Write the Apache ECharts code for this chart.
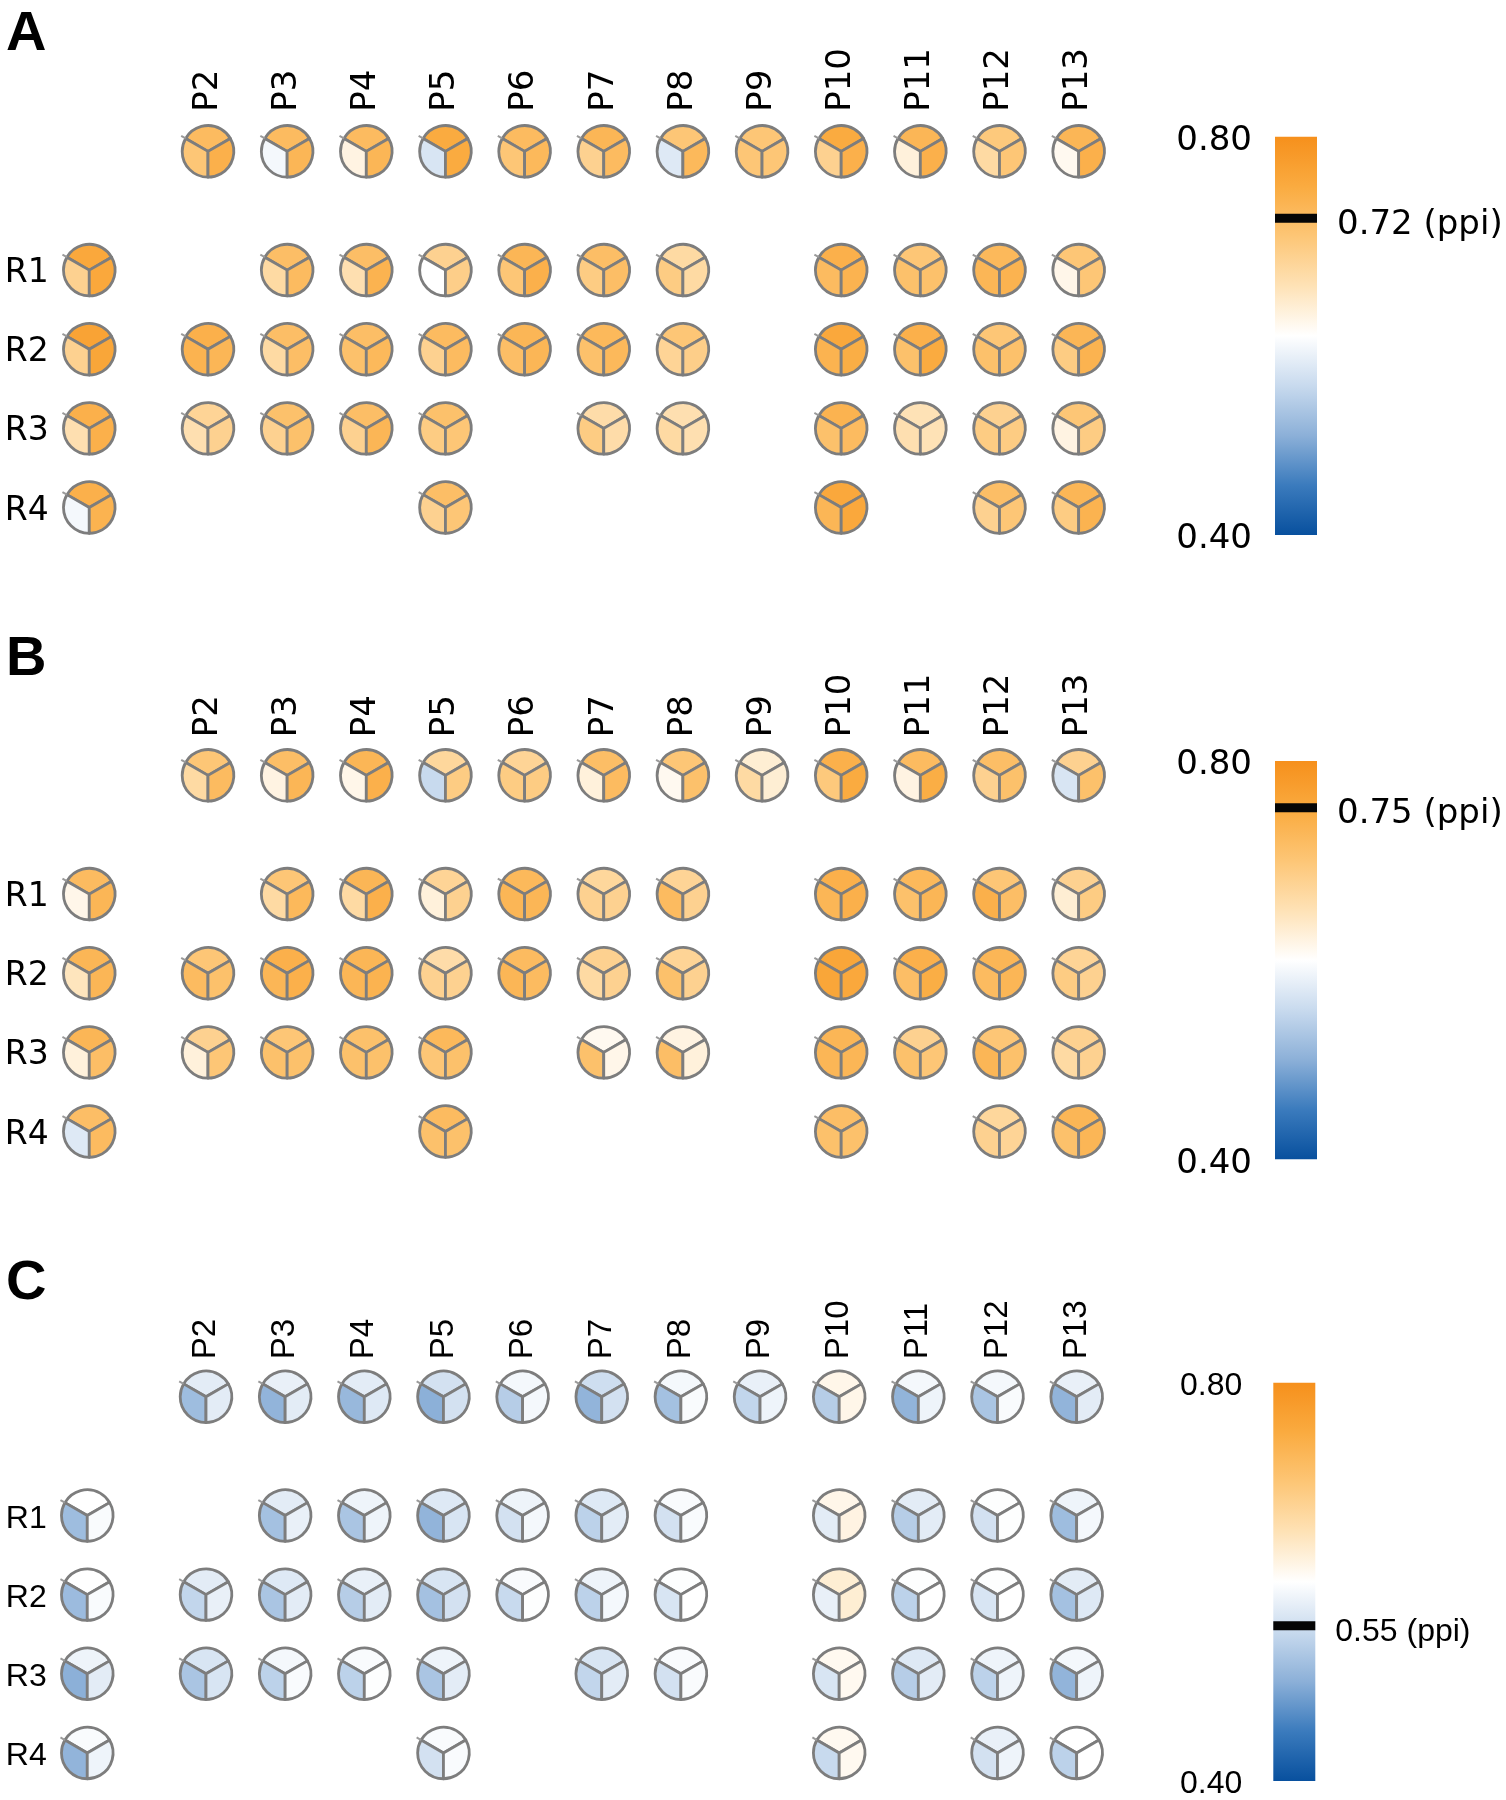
<!DOCTYPE html>
<html>
<head>
<meta charset="utf-8">
<script src="https://cdn.jsdelivr.net/npm/echarts@6/dist/echarts.min.js"></script>
<style>
html,body{margin:0;padding:0;background:#ffffff;}
#main{width:1506px;height:1800px;}
</style>
</head>
<body>
<div id="main"></div>
<script>
// ---------------- DATA ----------------
const panelNames = ['A', 'B', 'C'];
const colLabels = ['P2','P3','P4','P5','P6','P7','P8','P9','P10','P11','P12','P13'];
const colX = [2,3,4,5,6,7,8,9,10,11,12,13];
const rowLabels = ['R1','R2','R3','R4'];
const rowY = [1.5, 2.5, 3.5, 4.5];
const rColX = 0.5;      // position of the unlabeled first column
const headerY = 0;      // position of the header row of circles
// each circle: [top sector, lower-left sector, lower-right sector]
// row arrays: [first column, P2, P3, ..., P13]; null = no circle

const A_header = [[0.72,0.70,0.74],[0.72,0.59,0.73],[0.72,0.62,0.73],[0.75,0.565,0.75],[0.72,0.70,0.725],[0.73,0.68,0.72],[0.70,0.57,0.725],[0.70,0.70,0.70],[0.75,0.68,0.74],[0.73,0.625,0.74],[0.695,0.665,0.70],[0.73,0.61,0.74]];
const A_R1 = [[0.755,0.68,0.755],null,[0.715,0.665,0.72],[0.715,0.655,0.735],[0.68,0.60,0.685],[0.73,0.70,0.74],[0.715,0.69,0.715],[0.665,0.69,0.665],null,[0.74,0.72,0.735],[0.70,0.71,0.71],[0.725,0.73,0.735],[0.70,0.615,0.70]];
const A_R2 = [[0.765,0.68,0.76],[0.74,0.735,0.73],[0.715,0.665,0.715],[0.715,0.71,0.725],[0.72,0.68,0.72],[0.73,0.715,0.73],[0.725,0.71,0.725],[0.70,0.675,0.685],null,[0.755,0.735,0.745],[0.74,0.71,0.75],[0.70,0.71,0.71],[0.73,0.69,0.735]];
const A_R3 = [[0.74,0.655,0.74],[0.675,0.655,0.68],[0.71,0.68,0.71],[0.715,0.68,0.73],[0.71,0.69,0.70],null,[0.66,0.69,0.66],[0.655,0.665,0.655],null,[0.735,0.71,0.72],[0.65,0.655,0.65],[0.68,0.69,0.69],[0.70,0.62,0.69]];
const A_R4 = [[0.74,0.59,0.735],null,null,null,[0.715,0.68,0.70],null,null,null,null,[0.755,0.73,0.755],null,[0.715,0.68,0.70],[0.73,0.69,0.735]];

const B_header = [[0.70,0.665,0.72],[0.715,0.62,0.73],[0.73,0.615,0.74],[0.67,0.55,0.69],[0.675,0.69,0.69],[0.715,0.625,0.72],[0.70,0.61,0.71],[0.63,0.665,0.63],[0.74,0.695,0.75],[0.72,0.62,0.745],[0.715,0.68,0.71],[0.68,0.565,0.71]];
const B_R1 = [[0.72,0.615,0.73],null,[0.70,0.665,0.725],[0.73,0.665,0.74],[0.675,0.625,0.68],[0.725,0.73,0.73],[0.67,0.68,0.68],[0.675,0.72,0.68],null,[0.74,0.73,0.74],[0.725,0.71,0.73],[0.70,0.74,0.715],[0.68,0.63,0.69]];
const B_R2 = [[0.73,0.645,0.73],[0.70,0.72,0.71],[0.74,0.73,0.74],[0.73,0.73,0.735],[0.66,0.68,0.68],[0.72,0.73,0.72],[0.68,0.665,0.68],[0.675,0.71,0.68],null,[0.76,0.76,0.755],[0.74,0.715,0.745],[0.73,0.72,0.73],[0.675,0.69,0.68]];
const B_R3 = [[0.73,0.625,0.715],[0.68,0.625,0.70],[0.70,0.71,0.71],[0.71,0.71,0.71],[0.725,0.70,0.71],null,[0.61,0.71,0.615],[0.62,0.715,0.625],null,[0.73,0.73,0.73],[0.68,0.71,0.70],[0.70,0.73,0.71],[0.68,0.665,0.68]];
const B_R4 = [[0.715,0.57,0.72],null,null,null,[0.72,0.71,0.71],null,null,null,null,[0.715,0.71,0.71],null,[0.67,0.68,0.675],[0.73,0.71,0.73]];

const C_header = [[0.575,0.515,0.575],[0.58,0.505,0.575],[0.575,0.51,0.57],[0.56,0.50,0.56],[0.59,0.535,0.59],[0.555,0.505,0.56],[0.59,0.52,0.595],[0.58,0.545,0.585],[0.615,0.535,0.615],[0.59,0.505,0.585],[0.59,0.525,0.595],[0.58,0.505,0.575]];
const C_R1 = [[0.60,0.515,0.595],null,[0.575,0.52,0.58],[0.585,0.525,0.585],[0.57,0.505,0.565],[0.585,0.56,0.59],[0.57,0.54,0.575],[0.595,0.56,0.595],null,[0.615,0.575,0.62],[0.575,0.535,0.575],[0.598,0.56,0.598],[0.585,0.515,0.59]];
const C_R2 = [[0.60,0.513,0.595],[0.575,0.545,0.58],[0.57,0.525,0.575],[0.58,0.535,0.575],[0.565,0.52,0.56],[0.595,0.55,0.598],[0.585,0.54,0.59],[0.598,0.565,0.60],null,[0.63,0.58,0.63],[0.598,0.54,0.60],[0.598,0.565,0.60],[0.575,0.52,0.57]];
const C_R3 = [[0.585,0.50,0.575],[0.565,0.525,0.565],[0.59,0.54,0.595],[0.595,0.54,0.598],[0.585,0.525,0.575],null,[0.565,0.545,0.575],[0.595,0.56,0.595],null,[0.61,0.565,0.61],[0.57,0.535,0.575],[0.585,0.54,0.585],[0.59,0.505,0.585]];
const C_R4 = [[0.595,0.505,0.585],null,null,null,[0.595,0.56,0.595],null,null,null,null,[0.61,0.55,0.61],null,[0.58,0.56,0.585],[0.60,0.54,0.60]];

const cbarMin = 0.40;
const cbarMax = 0.80;
const markerValues = [0.718, 0.753, 0.556];
const markerLabels = ['0.72 (ppi)', '0.75 (ppi)', '0.55 (ppi)'];
// colour map from 0.40 (blue) to 0.80 (orange), evenly spaced stops
const colorStops = ['#08509e','#3b7bbd','#8cb0d8','#c8daee','#ffffff','#fee2b6','#fdc676','#faab40','#f6901c'];

// ---------------- LAYOUT ----------------
const panels = [
  {header: A_header, rows: [A_R1, A_R2, A_R3, A_R4]},
  {header: B_header, rows: [B_R1, B_R2, B_R3, B_R4]},
  {header: C_header, rows: [C_R1, C_R2, C_R3, C_R4]}
];
const gridTops = [111.8, 735.8, 1357.2];
const gridLefts = [49.7, 49.7, 47.7];
const labelMarginsTop = [0, -1.5, -2];
const fonts = ['DejaVu Sans', 'DejaVu Sans', 'Liberation Sans'];
const fontSizes = [34, 34, 33];
const letterY = [35, 659.5, 1284];
const cbarTops = [136.7, 761, 1382.7];
const cbarLefts = [1275, 1275, 1273.3];
const cbarLabelMargins = [23, 23, 31];
const cbarLabelPad = [9, 9, 6];
const markerTextDy = [7, 6, 7];
const UNIT_R = 0.326;

function buildItems(header, rows) {
  const items = [];
  header.forEach((vals, j) => {
    if (!vals) return;
    vals.forEach((v, s) => items.push([colX[j], headerY, s, v]));
  });
  rows.forEach((row, r) => {
    row.forEach((vals, k) => {
      if (!vals) return;
      const x = k === 0 ? rColX : colX[k - 1];
      vals.forEach((v, s) => items.push([x, rowY[r], s, v]));
    });
  });
  return items;
}

const ANG = [[-150, -30], [90, 210], [-30, 90]];
function renderSector(params, api) {
  const c = api.coord([api.value(0), api.value(1)]);
  const sz = api.size([UNIT_R, UNIT_R]);
  const r = Math.abs(sz[0]);
  const s = api.value(2);
  const a = ANG[s];
  const children = [{
    type: 'sector',
    shape: {cx: c[0], cy: c[1], r0: 0, r: r,
            startAngle: a[0] * Math.PI / 180, endAngle: a[1] * Math.PI / 180, clockwise: true},
    style: {fill: api.visual('color'), stroke: '#7d7d7d', lineWidth: 2.8, lineJoin: 'round'}
  }];
  if (s === 1) {
    const t = 210 * Math.PI / 180;
    children.push({
      type: 'line',
      shape: {x1: c[0] + r * Math.cos(t), y1: c[1] + r * Math.sin(t),
              x2: c[0] + 1.2 * r * Math.cos(t), y2: c[1] + 1.2 * r * Math.sin(t)},
      style: {stroke: '#9a9a9a', lineWidth: 2}
    });
  }
  return {type: 'group', children: children};
}

const gradStops = colorStops.slice().reverse().map((c, i) => ({offset: i / (colorStops.length - 1), color: c}));

function makeBarRenderer(p) {
  return function (params, api) {
    const tl = api.coord([0, cbarMax]);
    const br = api.coord([1, cbarMin]);
    const my = api.coord([0, api.value(1)])[1];
    return {type: 'group', children: [
      {type: 'rect', shape: {x: tl[0], y: tl[1], width: br[0] - tl[0], height: br[1] - tl[1]},
       style: {fill: {type: 'linear', x: 0, y: 0, x2: 0, y2: 1, colorStops: gradStops}}},
      {type: 'rect', shape: {x: tl[0], y: my - 4.5, width: br[0] - tl[0], height: 9},
       style: {fill: '#060606'}},
      {type: 'text', x: br[0] + 20, y: my + markerTextDy[p],
       style: {text: markerLabels[p], fill: '#000', fontSize: fontSizes[p] - (p === 2 ? 1 : 0),
               fontFamily: fonts[p], align: 'left', verticalAlign: 'middle'}}
    ]};
  };
}

// ---------------- OPTION ----------------
const grid = [], xAxis = [], yAxis = [], series = [], graphics = [];
panels.forEach((pd, p) => {
  grid.push({left: gridLefts[p], top: gridTops[p], width: 14 * 79.15, height: 6 * 79.15,
             containLabel: false, outerBoundsMode: 'none'});
  xAxis.push({
    type: 'value', gridIndex: p, min: 0, max: 14, interval: 1, position: 'top',
    axisLine: {show: false}, axisTick: {show: false}, splitLine: {show: false},
    axisLabel: {
      show: true, rotate: 90, margin: labelMarginsTop[p], color: '#000',
      fontSize: fontSizes[p], fontFamily: fonts[p], showMinLabel: true, showMaxLabel: true,
      formatter: function (v) { const i = colX.indexOf(Math.round(v)); return (i >= 0 && Math.abs(v - colX[i]) < 1e-6) ? colLabels[i] : ''; }
    }
  });
  yAxis.push({
    type: 'value', gridIndex: p, min: -0.5, max: 5.5, interval: 1, inverse: true,
    axisLine: {show: false}, axisTick: {show: false}, splitLine: {show: false},
    axisLabel: {
      show: true, margin: 1, color: '#000', fontSize: fontSizes[p] - 1, fontFamily: fonts[p],
      rich: {r: {padding: [7, 0, 0, 0], color: '#000', fontSize: fontSizes[p] - 1, fontFamily: fonts[p]}},
      formatter: function (v) {
        for (let i = 0; i < rowY.length; i++) if (Math.abs(v - rowY[i]) < 1e-6) return '{r|' + rowLabels[i] + '}';
        return '';
      }
    }
  });
  series.push({
    type: 'custom', xAxisIndex: p, yAxisIndex: p, coordinateSystem: 'cartesian2d',
    data: buildItems(pd.header, pd.rows), encode: {x: 0, y: 1}, renderItem: renderSector,
    clip: false, silent: true, animation: false
  });
  graphics.push({type: 'text', x: 6, y: letterY[p],
    style: {text: panelNames[p], fill: '#000', font: 'bold 56px "Liberation Sans"', verticalAlign: 'middle', align: 'left'}});
});

panels.forEach((pd, p) => {
  const gi = 3 + p;
  const fs = fontSizes[p] - (p === 2 ? 1 : 0);
  grid.push({left: cbarLefts[p], top: cbarTops[p], width: 42, height: 398.3, containLabel: false, outerBoundsMode: 'none'});
  xAxis.push({type: 'value', gridIndex: gi, min: 0, max: 1, show: false});
  yAxis.push({
    type: 'value', gridIndex: gi, min: cbarMin, max: cbarMax, interval: 0.4, position: 'left',
    axisLine: {show: false}, axisTick: {show: false}, splitLine: {show: false},
    axisLabel: {show: true, margin: cbarLabelMargins[p], color: '#000', fontSize: fs,
                fontFamily: fonts[p], showMinLabel: true, showMaxLabel: true,
                rich: {t: {padding: [cbarLabelPad[p], 0, 0, 0], color: '#000', fontSize: fs, fontFamily: fonts[p]}},
                formatter: function (v) { return '{t|' + v.toFixed(2) + '}'; }}
  });
  series.push({
    type: 'custom', xAxisIndex: gi, yAxisIndex: gi, coordinateSystem: 'cartesian2d',
    data: [[0.5, markerValues[p]]], encode: {x: 0, y: 1},
    renderItem: makeBarRenderer(p), clip: false, silent: true, animation: false
  });
});

const option = {
  backgroundColor: '#ffffff',
  animation: false,
  grid: grid, xAxis: xAxis, yAxis: yAxis, series: series,
  visualMap: {type: 'continuous', show: false, min: cbarMin, max: cbarMax, dimension: 3,
              seriesIndex: [0, 1, 2], inRange: {color: colorStops}},
  graphic: graphics
};

const chart = echarts.init(document.getElementById('main'), null, {renderer: 'canvas'});
chart.setOption(option);
</script>
</body>
</html>
